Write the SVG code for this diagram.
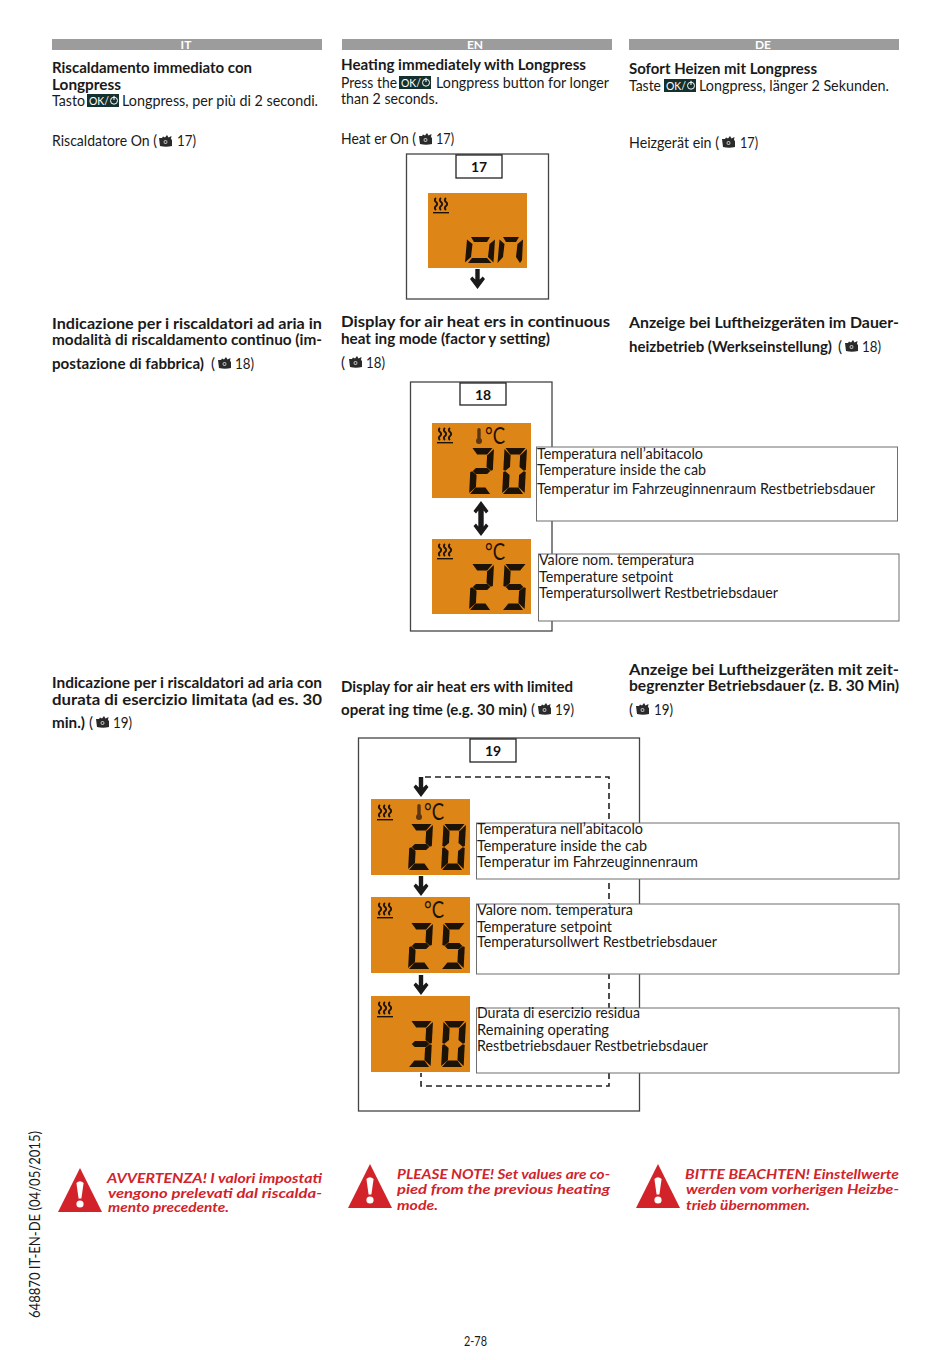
<svg xmlns="http://www.w3.org/2000/svg" width="950" height="1360" viewBox="0 0 950 1360">
<style>
text{font-family:Lato,"Open Sans","Liberation Sans",sans-serif;fill:#1a1a1a;font-size:15px}
.b{font-weight:700}
.hd{font-weight:700;fill:#fff;font-size:12px;text-anchor:middle}
.w{font-weight:700;font-style:italic;fill:#d2232a;font-size:13.5px}
.bar{fill:#9c9c9c}
.frame{fill:#fff;stroke:#444;stroke-width:1.3}
.lab{fill:#fff;stroke:#222;stroke-width:1.3}
.call{fill:#fff;stroke:#6e6e6e;stroke-width:1}
.lcd{fill:#de8518}
.num{font-weight:700;font-size:14px;text-anchor:middle;fill:#111}
.key{fill:#14302f}
.dash{fill:none;stroke:#222;stroke-width:1.6;stroke-dasharray:6 4}
.deg{font-size:23px;fill:#1d1206}
.seg{fill:#1d1206}
</style>
<defs>
<polygon id="sa" points="1,0 21,0 16,6.5 6,6.5"/>
<polygon id="sb" points="22.5,1 22.5,22 20.5,22.8 16,19 16,7.5"/>
<polygon id="sc" points="22.5,24 22.5,45 16,39 16,27 20.5,23.2"/>
<polygon id="sd" points="6,39.5 16,39.5 21,46 1,46"/>
<polygon id="se" points="0,24 2,23.2 6.5,27 6.5,39 0,45"/>
<polygon id="sf" points="0,1 6.5,7.5 6.5,19 2,22.8 0,22"/>
<polygon id="sg" points="5.5,20 17,20 20,23 17,26 5.5,26 2.5,23"/>
<g id="d0" class="seg" transform="translate(2.5 0) skewX(-3)"><use href="#sa"/><use href="#sb"/><use href="#sc"/><use href="#sd"/><use href="#se"/><use href="#sf"/></g>
<g id="d2" class="seg" transform="translate(2.5 0) skewX(-3)"><use href="#sa"/><use href="#sb"/><use href="#sg"/><use href="#se"/><use href="#sd"/></g>
<g id="d3" class="seg" transform="translate(2.5 0) skewX(-3)"><use href="#sa"/><use href="#sb"/><use href="#sg"/><use href="#sc"/><use href="#sd"/></g>
<g id="d5" class="seg" transform="translate(2.5 0) skewX(-3)"><use href="#sa"/><use href="#sf"/><use href="#sg"/><use href="#sc"/><use href="#sd"/></g>
<g id="heat">
<path d="M3,0 q-2.4,2 0,4 q2.4,2 0,4 q-2.4,2 0,4 M8,0 q-2.4,2 0,4 q2.4,2 0,4 q-2.4,2 0,4 M13,0 q-2.4,2 0,4 q2.4,2 0,4 q-2.4,2 0,4" fill="none" stroke="#1d1206" stroke-width="1.8"/>
<rect x="0" y="14" width="16" height="1.4" fill="#1d1206"/>
</g>
<g id="therm">
<rect x="1.8" y="0" width="3.4" height="12" rx="1.7" fill="#5a3612"/>
<circle cx="3.5" cy="13" r="3" fill="#5a3612"/>
</g>
<g id="cam">
<path d="M0,3 L3,3 L4,1.5 L6,2.5 L8,0 L9.5,2.5 L12.5,1 L12,4 L13,5 L13,11 Q7,12.5 1,11 Z" fill="#2a2a2a"/>
<circle cx="6.5" cy="7" r="2" fill="#bbb"/>
<circle cx="6.5" cy="7" r="1" fill="#2a2a2a"/>
</g>
<g id="key">
<rect width="32" height="13" class="key"/>
<text x="2" y="10.5" style="font-size:10.5px;fill:#fff" textLength="20" lengthAdjust="spacingAndGlyphs">OK/</text>
<circle cx="27" cy="6.7" r="3.5" fill="none" stroke="#fff" stroke-width="1"/>
<path d="M27,1.8 V6" stroke="#fff" stroke-width="1"/>
</g>
<polygon id="arrow" points="-2.2,0 2.2,0 2.2,10.5 5.2,7.5 7.5,10 0,20 -7.5,10 -5.2,7.5 -2.2,10.5"/>
<g id="warn">
<polygon points="22,0 44,44 0,44" fill="#d2232a"/>
<path d="M18.4,15 Q22,11.5 25.6,15 L23.4,30.5 H20.6 Z" fill="#fff"/>
<circle cx="22" cy="36" r="3.6" fill="#fff"/>
</g>
</defs>

<g id="headers">
<rect class="bar" x="52" y="39" width="270" height="11"/><text class="hd" x="186" y="49">IT</text>
<rect class="bar" x="342" y="39" width="270" height="11"/><text class="hd" x="475" y="49">EN</text>
<rect class="bar" x="629" y="39" width="270" height="11"/><text class="hd" x="763" y="49">DE</text>
</g>

<g id="text-it">
<text class="b" x="52" y="73" textLength="200" lengthAdjust="spacingAndGlyphs">Riscaldamento immediato con</text>
<text class="b" x="52" y="90" textLength="69" lengthAdjust="spacingAndGlyphs">Longpress</text>
<text x="52" y="106" textLength="33" lengthAdjust="spacingAndGlyphs">Tasto</text>
<use href="#key" x="87" y="94"/>
<text x="122" y="106" textLength="196" lengthAdjust="spacingAndGlyphs">Longpress, per più di 2 secondi.</text>
<text x="52" y="146" textLength="105" lengthAdjust="spacingAndGlyphs">Riscaldatore On (</text>
<use href="#cam" x="159" y="135"/>
<text x="177" y="146" textLength="19" lengthAdjust="spacingAndGlyphs">17)</text>
<text class="b" x="52" y="329" textLength="270" lengthAdjust="spacingAndGlyphs">Indicazione per i riscaldatori ad aria in</text>
<text class="b" x="52" y="345" textLength="270" lengthAdjust="spacingAndGlyphs">modalità di riscaldamento continuo (im-</text>
<text class="b" x="52" y="369" textLength="152" lengthAdjust="spacingAndGlyphs">postazione di fabbrica)</text>
<text x="211" y="369">(</text>
<use href="#cam" x="218" y="357"/>
<text x="235" y="369" textLength="19" lengthAdjust="spacingAndGlyphs">18)</text>
<text class="b" x="52" y="688" textLength="270" lengthAdjust="spacingAndGlyphs">Indicazione per i riscaldatori ad aria con</text>
<text class="b" x="52" y="705" textLength="270" lengthAdjust="spacingAndGlyphs">durata di esercizio limitata (ad es. 30</text>
<text class="b" x="52" y="728" textLength="33" lengthAdjust="spacingAndGlyphs">min.)</text>
<text x="89" y="728">(</text>
<use href="#cam" x="96" y="716"/>
<text x="113" y="728" textLength="19" lengthAdjust="spacingAndGlyphs">19)</text>
</g>

<g id="text-en">
<text class="b" x="341" y="70" textLength="245" lengthAdjust="spacingAndGlyphs">Heating immediately with Longpress</text>
<text x="341" y="88" textLength="56" lengthAdjust="spacingAndGlyphs">Press the</text>
<use href="#key" x="399" y="76"/>
<text x="436" y="88" textLength="173" lengthAdjust="spacingAndGlyphs">Longpress button for longer</text>
<text x="341" y="104" textLength="97" lengthAdjust="spacingAndGlyphs">than 2 seconds.</text>
<text x="341" y="144" textLength="75" lengthAdjust="spacingAndGlyphs">Heat er On (</text>
<use href="#cam" x="419" y="133"/>
<text x="436" y="144" textLength="18" lengthAdjust="spacingAndGlyphs">17)</text>
<text class="b" x="341" y="327" textLength="269" lengthAdjust="spacingAndGlyphs">Display for air heat ers in continuous</text>
<text class="b" x="341" y="344" textLength="209" lengthAdjust="spacingAndGlyphs">heat ing mode (factor y setting)</text>
<text x="341" y="368">(</text>
<use href="#cam" x="349" y="356"/>
<text x="366" y="368" textLength="19" lengthAdjust="spacingAndGlyphs">18)</text>
<text class="b" x="341" y="692" textLength="232" lengthAdjust="spacingAndGlyphs">Display for air heat ers with limited</text>
<text class="b" x="341" y="715" textLength="186" lengthAdjust="spacingAndGlyphs">operat ing time (e.g. 30 min)</text>
<text x="531" y="715">(</text>
<use href="#cam" x="538" y="703"/>
<text x="555" y="715" textLength="19" lengthAdjust="spacingAndGlyphs">19)</text>
</g>

<g id="text-de">
<text class="b" x="629" y="74" textLength="188" lengthAdjust="spacingAndGlyphs">Sofort Heizen mit Longpress</text>
<text x="629" y="91" textLength="32" lengthAdjust="spacingAndGlyphs">Taste</text>
<use href="#key" x="664" y="79"/>
<text x="699" y="91" textLength="190" lengthAdjust="spacingAndGlyphs">Longpress, länger 2 Sekunden.</text>
<text x="629" y="148" textLength="90" lengthAdjust="spacingAndGlyphs">Heizgerät ein (</text>
<use href="#cam" x="722" y="136"/>
<text x="740" y="148" textLength="18" lengthAdjust="spacingAndGlyphs">17)</text>
<text class="b" x="629" y="328" textLength="270" lengthAdjust="spacingAndGlyphs">Anzeige bei Luftheizgeräten im Dauer-</text>
<text class="b" x="629" y="352" textLength="203" lengthAdjust="spacingAndGlyphs">heizbetrieb (Werkseinstellung)</text>
<text x="838" y="352">(</text>
<use href="#cam" x="845" y="340"/>
<text x="862" y="352" textLength="19" lengthAdjust="spacingAndGlyphs">18)</text>
<text class="b" x="629" y="675" textLength="270" lengthAdjust="spacingAndGlyphs">Anzeige bei Luftheizgeräten mit zeit-</text>
<text class="b" x="629" y="691" textLength="270" lengthAdjust="spacingAndGlyphs">begrenzter Betriebsdauer (z. B. 30 Min)</text>
<text x="629" y="715">(</text>
<use href="#cam" x="636" y="703"/>
<text x="654" y="715" textLength="19" lengthAdjust="spacingAndGlyphs">19)</text>
</g>

<g id="fig17">
<rect class="frame" x="406.5" y="154" width="142" height="145"/>
<rect class="lab" x="456" y="155" width="46" height="23"/>
<text class="num" x="479" y="172">17</text>
<rect class="lcd" x="428" y="193" width="99" height="75"/>
<use href="#heat" x="433" y="198"/>
<g class="seg">
<polygon points="471,237 490,237 487,242 474,242"/>
<polygon points="467,239.5 472.5,244 471,257 465,262.5"/>
<polygon points="495,239.5 489.5,244 488,257 493.5,262.5"/>
<polygon points="472,258 487,258 491.5,263 468,263"/>
<polygon points="503,237 519,237 516,242 506,242"/>
<polygon points="499.5,239.5 504.5,244 503,257 497.5,263"/>
<polygon points="523,239.5 517.5,244 516,257 520,263 522,260"/>
</g>
<use href="#arrow" x="477.5" y="269" fill="#1a1a1a"/>
</g>

<g id="fig18">
<rect class="frame" x="410.5" y="382" width="141.5" height="249"/>
<rect class="lab" x="460" y="383" width="46" height="22"/>
<text class="num" x="483" y="400">18</text>
<rect class="lcd" x="432" y="423" width="99" height="75"/>
<use href="#heat" x="437" y="428"/>
<use href="#therm" x="475.5" y="428"/>
<text class="deg" x="485" y="444" textLength="20" lengthAdjust="spacingAndGlyphs">°C</text>
<use href="#d2" x="469" y="448"/>
<use href="#d0" x="502" y="448"/>
<path d="M481,501 L488.5,511 L486,513.5 L483.7,510.5 V526.5 L486,523.5 L488.5,526 L481,536 L473.5,526 L476,523.5 L478.3,526.5 V510.5 L476,513.5 L473.5,511 Z" fill="#1a1a1a"/>
<rect class="lcd" x="432" y="539" width="99" height="75"/>
<use href="#heat" x="437" y="544"/>
<text class="deg" x="485" y="560" textLength="20" lengthAdjust="spacingAndGlyphs">°C</text>
<use href="#d2" x="469" y="564"/>
<use href="#d5" x="502" y="564"/>
</g>

<g id="fig19">
<rect class="frame" x="358.5" y="738" width="281" height="373"/>
<rect class="lab" x="470" y="739" width="46" height="23"/>
<text class="num" x="493" y="756">19</text>
<rect class="lcd" x="371" y="799" width="99" height="76"/>
<use href="#heat" x="377" y="805"/>
<use href="#therm" x="415.5" y="804"/>
<text class="deg" x="424" y="820" textLength="20" lengthAdjust="spacingAndGlyphs">°C</text>
<use href="#d2" x="408" y="824"/>
<use href="#d0" x="441" y="824"/>
<rect class="lcd" x="371" y="897" width="99" height="76"/>
<use href="#heat" x="377" y="903"/>
<text class="deg" x="424" y="918" textLength="20" lengthAdjust="spacingAndGlyphs">°C</text>
<use href="#d2" x="408" y="923"/>
<use href="#d5" x="441" y="923"/>
<rect class="lcd" x="371" y="996" width="99" height="76"/>
<use href="#heat" x="377" y="1002"/>
<use href="#d3" x="408" y="1021"/>
<use href="#d0" x="441" y="1021"/>
</g>

<g id="connectors">
<path class="dash" d="M425,777 H609 V1086 H421 V1073"/>
<use href="#arrow" x="421" y="777" fill="#1a1a1a"/>
<use href="#arrow" x="421" y="876" fill="#1a1a1a"/>
<use href="#arrow" x="421" y="975" fill="#1a1a1a"/>
</g>

<g id="callout-18a">
<rect class="call" x="536.5" y="447" width="361" height="74"/>
<text x="537" y="459" textLength="166" lengthAdjust="spacingAndGlyphs">Temperatura nell’abitacolo</text>
<text x="537" y="475" textLength="169" lengthAdjust="spacingAndGlyphs">Temperature inside the cab</text>
<text x="537" y="494" textLength="338" lengthAdjust="spacingAndGlyphs">Temperatur im Fahrzeuginnenraum Restbetriebsdauer</text>
</g>
<g id="callout-18b">
<rect class="call" x="538.5" y="554" width="360.5" height="67"/>
<text x="539" y="565" textLength="155" lengthAdjust="spacingAndGlyphs">Valore nom. temperatura</text>
<text x="539" y="582" textLength="134" lengthAdjust="spacingAndGlyphs">Temperature setpoint</text>
<text x="539" y="598" textLength="239" lengthAdjust="spacingAndGlyphs">Temperatursollwert Restbetriebsdauer</text>
</g>
<g id="callout-19a">
<rect class="call" x="476.5" y="823" width="422.5" height="56"/>
<text x="477" y="834" textLength="166" lengthAdjust="spacingAndGlyphs">Temperatura nell’abitacolo</text>
<text x="477" y="851" textLength="170" lengthAdjust="spacingAndGlyphs">Temperature inside the cab</text>
<text x="477" y="867" textLength="221" lengthAdjust="spacingAndGlyphs">Temperatur im Fahrzeuginnenraum</text>
</g>
<g id="callout-19b">
<rect class="call" x="476.5" y="904" width="422.5" height="70"/>
<text x="477" y="915" textLength="156" lengthAdjust="spacingAndGlyphs">Valore nom. temperatura</text>
<text x="477" y="932" textLength="135" lengthAdjust="spacingAndGlyphs">Temperature setpoint</text>
<text x="477" y="947" textLength="240" lengthAdjust="spacingAndGlyphs">Temperatursollwert Restbetriebsdauer</text>
</g>
<g id="callout-19c">
<rect class="call" x="476.5" y="1008" width="422.5" height="65"/>
<text x="477" y="1018" textLength="163" lengthAdjust="spacingAndGlyphs">Durata di esercizio residua</text>
<text x="477" y="1035" textLength="132" lengthAdjust="spacingAndGlyphs">Remaining operating</text>
<text x="477" y="1051" textLength="231" lengthAdjust="spacingAndGlyphs">Restbetriebsdauer Restbetriebsdauer</text>
</g>

<g id="warning-it">
<use href="#warn" x="58" y="1168"/>
<text class="w" x="107" y="1183" textLength="215" lengthAdjust="spacingAndGlyphs">AVVERTENZA! I valori impostati</text>
<text class="w" x="108" y="1198" textLength="214" lengthAdjust="spacingAndGlyphs">vengono prelevati dal riscalda-</text>
<text class="w" x="108" y="1212" textLength="121" lengthAdjust="spacingAndGlyphs">mento precedente.</text>
</g>
<g id="warning-en">
<use href="#warn" x="348" y="1164"/>
<text class="w" x="397" y="1179" textLength="213" lengthAdjust="spacingAndGlyphs">PLEASE NOTE! Set values are co-</text>
<text class="w" x="397" y="1194" textLength="213" lengthAdjust="spacingAndGlyphs">pied from the previous heating</text>
<text class="w" x="397" y="1210" textLength="41" lengthAdjust="spacingAndGlyphs">mode.</text>
</g>
<g id="warning-de">
<use href="#warn" x="636" y="1164"/>
<text class="w" x="685" y="1179" textLength="214" lengthAdjust="spacingAndGlyphs">BITTE BEACHTEN! Einstellwerte</text>
<text class="w" x="686" y="1194" textLength="213" lengthAdjust="spacingAndGlyphs">werden vom vorherigen Heizbe-</text>
<text class="w" x="686" y="1210" textLength="124" lengthAdjust="spacingAndGlyphs">trieb übernommen.</text>
</g>

<g id="footer">
<text transform="translate(40 1318) rotate(-90)" textLength="187" lengthAdjust="spacingAndGlyphs">648870 IT-EN-DE (04/05/2015)</text>
<text x="464" y="1346" style="font-size:13px" textLength="23" lengthAdjust="spacingAndGlyphs">2-78</text>
</g>
</svg>
